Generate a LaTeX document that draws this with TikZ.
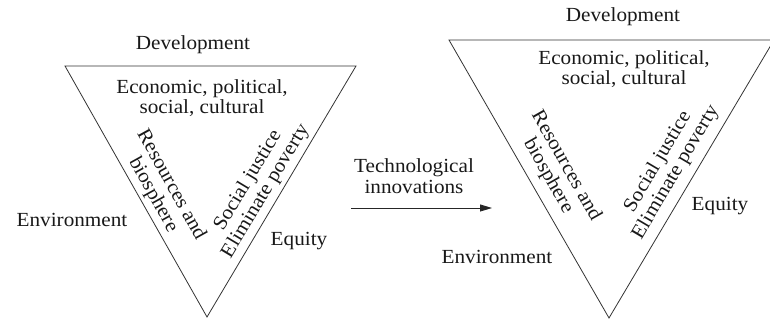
\documentclass[tikz,border=0pt]{standalone}
\usepackage{fontspec}
\setmainfont{Liberation Serif}[FakeStretch=1.06]
\usetikzlibrary{arrows.meta}
\tikzset{
  lbl/.style={inner sep=0pt, align=center, text=black!90,
    font=\fontsize{20}{20.5}\selectfont},
  edge/.style={draw=black!80, line width=0.8pt, line join=miter},
  conn/.style={draw=black!85, line width=0.9pt, -{Triangle[length=12pt,width=7pt]}}
}
\begin{document}
\begin{tikzpicture}[x=1pt,y=-1pt]
\useasboundingbox (0,0) rectangle (770,320);
% left triangle
\coordinate (L1) at (65,66);
\coordinate (L2) at (356,66);
\coordinate (L3) at (207,317);
\draw[edge] (L1) -- (L2) -- (L3) -- cycle;
% right triangle
\coordinate (R1) at (449,40);
\coordinate (R2) at (774,40);
\coordinate (R3) at (609,318);
\draw[edge] (R1) -- (R2) -- (R3) -- cycle;
% left labels
\node[lbl] (ldev) at (193,45) {Development};
\node[lbl] (lepsc) at (202,98) {Economic, political,\\ social, cultural};
\node[lbl] (lenv) at (72,220) {Environment};
\node[lbl] (lequ) at (299,241) {Equity};
\node[lbl, rotate=-61] (lres) at (162,190) {Resources and\\ biosphere};
\node[lbl, rotate=59] (lsoc) at (257,186) {Social justice\\ Eliminate poverty};
% arrow
\node[lbl] (tech) at (414,176) {Technological\\ innovations};
\coordinate (a1) at (351,208);
\coordinate (a2) at (492,208);
\draw[conn] (a1) -- (a2);
% right labels
\node[lbl] (rdev) at (623,17) {Development};
\node[lbl] (repsc) at (624,69) {Economic, political,\\ social, cultural};
\node[lbl] (renv) at (497,257) {Environment};
\node[lbl] (requ) at (720,206) {Equity};
\node[lbl, rotate=-60.5] (rres) at (557,171) {Resources and\\ biosphere};
\node[lbl, rotate=59.5] (rsoc) at (667,167) {Social justice\\ Eliminate poverty};
\end{tikzpicture}
\end{document}
